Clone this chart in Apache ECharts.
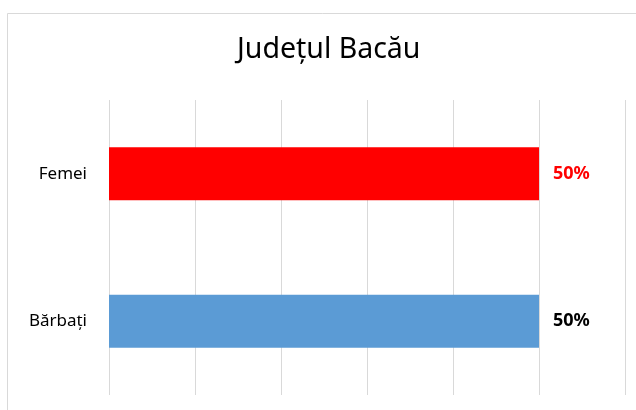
<!DOCTYPE html>
<html>
<head>
<meta charset="utf-8">
<script src="https://cdn.jsdelivr.net/npm/echarts@6/dist/echarts.min.js"></script>
<style>
  html, body { margin: 0; padding: 0; background: #fff; }
  #main { width: 636px; height: 410px; }
</style>
</head>
<body>
<div id="main"></div>
<script>
var categories = ['Bărbați', 'Femei'];
var values = [0.5, 0.5];
var barColors = ['#5b9bd5', '#ff0000'];
var labelColors = ['#000000', '#ff0000'];

var myChart = echarts.init(document.getElementById('main'));
var font = '"Noto Sans", sans-serif';

var seriesData = values.map(function (v, i) {
  return {
    value: v,
    itemStyle: { color: barColors[i] },
    label: { color: labelColors[i] }
  };
});

var option = {
  backgroundColor: '#fff',
  animation: false,
  title: {
    text: 'Județul Bacău',
    left: 232,
    top: 30,
    textStyle: { fontFamily: font, fontSize: 28.5, fontWeight: 'normal', color: '#000' }
  },
  graphic: [{
    type: 'rect',
    shape: { x: 7.5, y: 13.5, width: 700, height: 420 },
    style: { fill: 'none', stroke: '#d9d9d9', lineWidth: 1 },
    silent: true
  }],
  grid: { left: 109, right: 11, top: 100, bottom: 15, containLabel: false },
  xAxis: {
    type: 'value',
    min: 0,
    max: 0.6,
    interval: 0.1,
    axisLabel: { show: false },
    axisLine: { show: false },
    axisTick: { show: false },
    splitLine: { show: true, lineStyle: { color: '#d9d9d9', width: 1 } }
  },
  yAxis: {
    type: 'category',
    data: categories,
    axisLine: { show: false },
    axisTick: { show: false },
    axisLabel: { margin: 22, fontFamily: font, fontSize: 17, color: '#000' }
  },
  series: [{
    type: 'bar',
    barWidth: 53,
    data: seriesData,
    label: {
      show: true,
      position: 'right',
      distance: 14,
      fontFamily: font,
      fontSize: 18,
      fontWeight: 'bold',
      formatter: function (p) { return Math.round(p.value * 100) + '%'; }
    }
  }]
};
myChart.setOption(option, true);
</script>
</body>
</html>
